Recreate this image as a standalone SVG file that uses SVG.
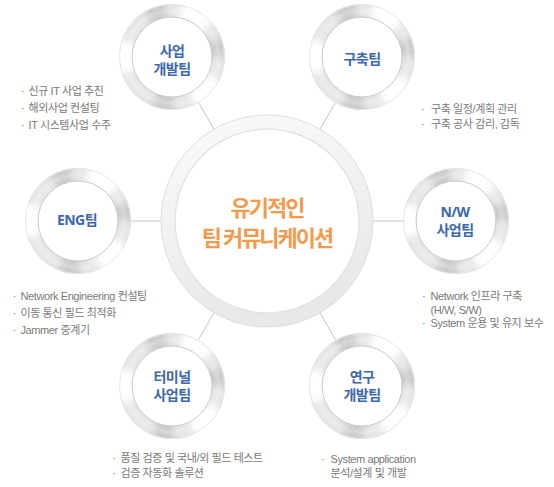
<svg xmlns="http://www.w3.org/2000/svg" xmlns:xlink="http://www.w3.org/1999/xlink" width="554" height="487" viewBox="0 0 554 487">
<style>
.lbl{font-family:"Noto Sans","Noto Sans CJK KR",sans-serif;font-weight:bold;font-size:14px;fill:#3d67b0;text-anchor:middle;letter-spacing:-0.6px}
.ttl{font-family:"Noto Sans CJK KR",sans-serif;font-weight:bold;font-size:22px;fill:#f39a4b;text-anchor:middle;letter-spacing:-2px}
.bl{font-family:"Liberation Sans","Noto Sans CJK KR",sans-serif;font-size:11px;fill:#7a7a7a;letter-spacing:-0.4px}
.con line{stroke:#bcc6d3;stroke-width:1}
</style>
<defs>
<clipPath id="annulus"><path clip-rule="evenodd" d="M53,0A53,53 0 1,0 -53,0A53,53 0 1,0 53,0ZM40,0A40,40 0 1,0 -40,0A40,40 0 1,0 40,0Z"/></clipPath>
<filter id="soft" x="-30%" y="-30%" width="160%" height="160%"><feGaussianBlur stdDeviation="3.5"/></filter>
<radialGradient id="sheen" cx="0" cy="0" r="53" gradientUnits="userSpaceOnUse"><stop offset="0.75" stop-color="#fff" stop-opacity="0"/><stop offset="0.87" stop-color="#fff" stop-opacity="0.35"/><stop offset="1" stop-color="#fff" stop-opacity="0"/></radialGradient>
<linearGradient id="bigRing" x1="0" y1="0" x2="0.3" y2="1"><stop offset="0" stop-color="#fbfbfb"/><stop offset="1" stop-color="#e8e8e8"/></linearGradient>
<g id="ring">
<g clip-path="url(#annulus)">
<g filter="url(#soft)">
<circle r="46.5" fill="none" stroke="#e2e2e2" stroke-width="22"/>
<circle r="46.5" fill="none" stroke="#ffffff" stroke-width="22" stroke-dasharray="0 21.5 30 79.5 30 67.5 30 33.5"/>
<circle r="46.5" fill="none" stroke="#c2c2c2" stroke-width="22" stroke-dasharray="0 71 20 102 20 61 18"/>
</g>
<circle r="53" fill="url(#sheen)"/>
</g>
<circle r="52.5" fill="none" stroke="#e6e6e6" stroke-width="1"/>
<circle r="40" fill="#fff" stroke="#cacaca" stroke-width="1"/>
</g>
</defs>
<rect width="554" height="487" fill="#fff"/>
<g id="connectors" class="con">
<line x1="214" y1="129.2" x2="198.5" y2="102.4"/>
<line x1="320" y1="129.2" x2="335.5" y2="102.4"/>
<line x1="373" y1="221" x2="404" y2="221"/>
<line x1="161" y1="221" x2="130" y2="221"/>
<line x1="214" y1="312.8" x2="198.5" y2="339.6"/>
<line x1="320" y1="312.8" x2="335.5" y2="339.6"/>
</g>
<g id="center">
<circle cx="267" cy="221" r="106" fill="url(#bigRing)" stroke="#dedede" stroke-width="1"/>
<circle cx="267" cy="221" r="92" fill="#fff" stroke="#e4e4e4" stroke-width="1.5"/>
<text class="ttl" x="267" y="216">유기적인</text>
<text class="ttl" x="267" y="246">팀 커뮤니케이션</text>
</g>
<g id="node-bizdev">
<use xlink:href="#ring" x="172" y="57"/>
<text class="lbl" x="172" y="55.5">사업</text>
<text class="lbl" x="172" y="74">개발팀</text>
<text class="bl" x="21"><tspan y="94.5">·</tspan><tspan x="21" y="111.5">·</tspan><tspan x="21" y="128.5">·</tspan></text>
<text class="bl" x="28.5"><tspan y="94.5">신규 IT 사업 추진</tspan><tspan x="28.5" y="111.5">해외사업 컨설팅</tspan><tspan x="28.5" y="128.5">IT 시스템사업 수주</tspan></text>
</g>
<g id="node-build">
<use xlink:href="#ring" x="362" y="57"/>
<text class="lbl" x="362" y="64">구축팀</text>
<text class="bl" x="421"><tspan y="113">·</tspan><tspan x="421" y="128">·</tspan></text>
<text class="bl" x="431"><tspan y="113">구축 일정/계획 관리</tspan><tspan x="431" y="128">구축 공사 감리, 감독</tspan></text>
</g>
<g id="node-eng">
<use xlink:href="#ring" x="78" y="221"/>
<text class="lbl" x="77" y="225">ENG팀</text>
<text class="bl" x="12.5"><tspan y="299.5">·</tspan><tspan x="12.5" y="316.5">·</tspan><tspan x="12.5" y="333.5">·</tspan></text>
<text class="bl" x="20.5"><tspan y="299.5">Network Engineering 컨설팅</tspan><tspan x="20.5" y="316.5">이동 통신 필드 최적화</tspan><tspan x="20.5" y="333.5">Jammer 중계기</tspan></text>
</g>
<g id="node-nw">
<use xlink:href="#ring" x="456" y="221"/>
<text class="lbl" x="455" y="216.5">N/W</text>
<text class="lbl" x="455" y="235">사업팀</text>
<text class="bl" x="422"><tspan y="300">·</tspan><tspan x="422" y="327">·</tspan></text>
<text class="bl" x="430.5"><tspan y="300">Network 인프라 구축</tspan><tspan x="430.5" y="313.5">(H/W, S/W)</tspan><tspan x="430.5" y="327">System 운용 및 유지 보수</tspan></text>
</g>
<g id="node-terminal">
<use xlink:href="#ring" x="172" y="386"/>
<text class="lbl" x="172" y="381.5">터미널</text>
<text class="lbl" x="172" y="400">사업팀</text>
<text class="bl" x="112.5"><tspan y="462">·</tspan><tspan x="112.5" y="477">·</tspan></text>
<text class="bl" x="120.5"><tspan y="462">품질 검증 및 국내/외 필드 테스트</tspan><tspan x="120.5" y="477">검증 자동화 솔루션</tspan></text>
</g>
<g id="node-rnd">
<use xlink:href="#ring" x="362" y="386"/>
<text class="lbl" x="362" y="381.5">연구</text>
<text class="lbl" x="362" y="400">개발팀</text>
<text class="bl" x="321"><tspan y="463">·</tspan></text>
<text class="bl" x="330.5"><tspan y="463">System application</tspan><tspan x="330.5" y="477">분석/설계 및 개발</tspan></text>
</g>
</svg>
